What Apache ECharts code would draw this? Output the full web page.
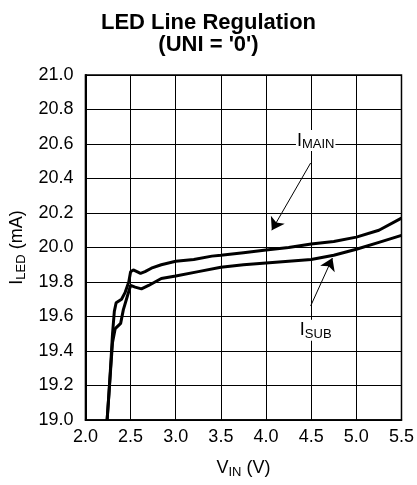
<!DOCTYPE html>
<html><head><meta charset="utf-8">
<script src="https://cdn.jsdelivr.net/npm/echarts@6/dist/echarts.min.js"></script>
<style>html,body{margin:0;padding:0;background:#fff}#c{width:417px;height:485px}</style>
</head><body><div id="c"></div>
<script>
var xTicks = [2.0, 2.5, 3.0, 3.5, 4.0, 4.5, 5.0, 5.5];
var yTicks = [19.0, 19.2, 19.4, 19.6, 19.8, 20.0, 20.2, 20.4, 20.6, 20.8, 21.0];
var mainV = [2.24,2.26,2.28,2.30,2.32,2.34,2.37,2.40,2.44,2.48,2.50,2.53,2.57,2.61,2.66,2.73,2.84,3.0,3.2,3.4,3.5,3.75,4.0,4.25,4.5,4.75,5.0,5.25,5.5];
var mainI = [19.0,19.15,19.32,19.50,19.63,19.68,19.69,19.70,19.74,19.80,19.86,19.87,19.86,19.85,19.86,19.88,19.90,19.92,19.93,19.95,19.955,19.97,19.985,20.00,20.02,20.035,20.06,20.10,20.17];
var subV = [2.24,2.26,2.28,2.30,2.33,2.39,2.42,2.46,2.50,2.55,2.62,2.70,2.77,2.84,3.0,3.25,3.5,3.75,4.0,4.25,4.5,4.75,5.0,5.25,5.5];
var subI = [19.0,19.15,19.30,19.45,19.53,19.56,19.64,19.71,19.78,19.77,19.76,19.78,19.80,19.82,19.835,19.86,19.885,19.90,19.91,19.92,19.93,19.955,19.99,20.03,20.07];

function pairs(a,b){return a.map(function(v,i){return [v,b[i]];});}
var rich = {
  b:{fontSize:18,fontFamily:'Liberation Sans',color:'#000'},
  s:{fontSize:13,fontFamily:'Liberation Sans',color:'#000',verticalAlign:'bottom',padding:[8,0,0,0]}
};
var chart = echarts.init(document.getElementById('c'));
chart.setOption({
  animation:false,
  backgroundColor:'#fff',
  title:{text:"LED Line Regulation\n(UNI = '0')",left:'center',top:7,
    textStyle:{fontFamily:'Liberation Sans',fontWeight:'bold',fontSize:22,lineHeight:22,color:'#000'}},
  grid:{left:83,right:14,top:75,bottom:65,show:true,borderColor:'#000',borderWidth:1.5},
  xAxis:{type:'value',min:2.0,max:5.5,interval:0.5,
    axisLine:{show:true,lineStyle:{color:'#000',width:1.5}},axisTick:{show:false},
    splitLine:{show:true,lineStyle:{color:'#000',width:1}},
    axisLabel:{color:'#000',fontSize:18,fontFamily:'Liberation Sans',margin:8,formatter:function(v){return v.toFixed(1);}},
    name:'{b|V}{s|IN}{b| (V)}',nameLocation:'middle',nameGap:38,nameTextStyle:{rich:rich}},
  yAxis:{type:'value',min:19.0,max:21.0,interval:0.2,
    axisLine:{show:true,lineStyle:{color:'#000',width:2}},axisTick:{show:false},
    splitLine:{show:true,lineStyle:{color:'#000',width:1}},
    axisLabel:{color:'#000',fontSize:18,fontFamily:'Liberation Sans',margin:12,formatter:function(v){return v.toFixed(1);}},
    name:'{b|I}{s|LED}{b| (mA)}',nameLocation:'middle',nameRotate:90,nameGap:52,nameTextStyle:{rich:rich}},
  series:[
    {type:'line',name:'IMAIN',data:pairs(mainV,mainI),showSymbol:false,lineStyle:{color:'#000',width:3},z:3,
      markLine:{silent:true,symbol:['none','arrow'],symbolSize:12,lineStyle:{color:'#000',width:1,type:'solid'},label:{show:false},
        data:[[{coord:[4.494,20.49]},{coord:[4.064,20.10]}],[{coord:[4.494,19.661]},{coord:[4.735,19.939]}]]},
      markPoint:{silent:true,symbolSize:0,
        data:[
          {coord:[4.55,20.62],label:{show:true,position:'inside',formatter:'{b|I}{s|MAIN}',rich:rich,backgroundColor:'#fff',padding:[0,1]}},
          {coord:[4.55,19.52],label:{show:true,position:'inside',formatter:'{b|I}{s|SUB}',rich:rich,backgroundColor:'#fff',padding:[0,1]}}
        ]}},
    {type:'line',name:'ISUB',data:pairs(subV,subI),showSymbol:false,lineStyle:{color:'#000',width:3},z:3}
  ]
});
</script></body></html>
